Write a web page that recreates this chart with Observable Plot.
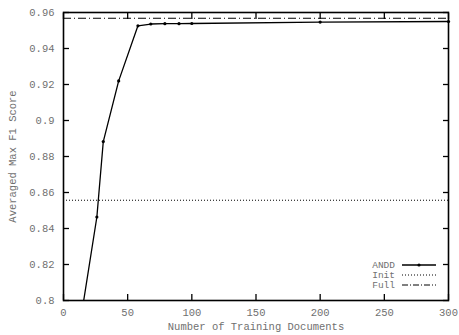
<!DOCTYPE html>
<html><head><meta charset="utf-8">
<script src="https://cdn.jsdelivr.net/npm/d3@7"></script>
<script src="https://cdn.jsdelivr.net/npm/@observablehq/plot@0.6"></script>
<style>body{margin:0;background:#fff}</style>
</head><body><div id="chart"></div>
<script>
const docs = [10, 26, 31, 43, 58, 68, 79, 90, 100, 200, 300];
const anddF1 = [0.774, 0.8464, 0.8883, 0.922, 0.9526, 0.9536, 0.9538, 0.9538, 0.9539, 0.9547, 0.955];
const initF1 = 0.8557;
const fullF1 = 0.9568;
const xTicks = [0, 50, 100, 150, 200, 250, 300];
const yTicks = [0.8, 0.82, 0.84, 0.86, 0.88, 0.9, 0.92, 0.94, 0.96];
const yTickLabels = ["0.8", "0.82", "0.84", "0.86", "0.88", "0.9", "0.92", "0.94", "0.96"];
const legendNames = ["ANDD", "Init", "Full"];

const andd = docs.map((d, i) => ({docs: d, f1: anddF1[i]}));
const FONT = "'Liberation Mono', 'DejaVu Sans Mono', monospace";
const GRAY = "#707070";

const chart = Plot.plot({
  width: 459, height: 335,
  marginLeft: 63, marginRight: 11, marginTop: 12, marginBottom: 35,
  style: {fontFamily: FONT, fontSize: "10.5px", background: "#fff", overflow: "visible"},
  x: {domain: [0, 300]},
  y: {domain: [0.8, 0.96]},
  marks: [
    Plot.ruleY([initF1], {stroke: "#000", strokeWidth: 1, strokeDasharray: "1,2"}),
    Plot.ruleY([fullF1], {stroke: "#000", strokeWidth: 1, strokeDasharray: "8,3,1,3"}),
    Plot.line(andd, {x: "docs", y: "f1", stroke: "#000", strokeWidth: 1.3, clip: true}),
    Plot.dot(andd.filter(d => d.f1 >= 0.8), {x: "docs", y: "f1", r: 1.6, fill: "#000", stroke: "none"}),
    Plot.axisX({ticks: xTicks, tickSize: 0, tickPadding: 8, tickFormat: d => String(d), fill: GRAY, label: "Number of Training Documents", labelAnchor: "center", labelArrow: "none", labelOffset: 29, color: GRAY}),
    Plot.axisY({ticks: yTicks, tickSize: 0, tickPadding: 9, tickFormat: (d, i) => yTickLabels[i], fill: GRAY, label: "Averaged Max F1 Score", labelAnchor: "center", labelArrow: "none", labelOffset: 55, color: GRAY}),
    Plot.axisX({ticks: xTicks, anchor: "bottom", tickSize: -6, text: null, label: null, stroke: "#000", strokeWidth: 1.3}),
    Plot.axisX({ticks: xTicks, anchor: "top", tickSize: -6, text: null, label: null, stroke: "#000", strokeWidth: 1.3}),
    Plot.axisY({ticks: yTicks, anchor: "left", tickSize: -6, text: null, label: null, stroke: "#000", strokeWidth: 1.3}),
    Plot.axisY({ticks: yTicks, anchor: "right", tickSize: -6, text: null, label: null, stroke: "#000", strokeWidth: 1.3}),
    Plot.frame({stroke: "#000", strokeWidth: 1.6})
  ]
});

const svg = d3.select(chart);
const lg = svg.append("g").attr("font-family", FONT).attr("font-size", 9.5).attr("fill", GRAY);
const rowsY = [265, 275, 285];
const dashes = [null, "1,2", "6,2,1,2"];
legendNames.forEach((name, i) => {
  lg.append("text").attr("x", 395).attr("y", rowsY[i]).attr("dy", "0.32em").attr("text-anchor", "end").text(name);
  lg.append("line").attr("x1", 402).attr("x2", 436).attr("y1", rowsY[i]).attr("y2", rowsY[i])
    .attr("stroke", "#000").attr("stroke-width", i === 0 ? 1.3 : 1).attr("stroke-dasharray", dashes[i]);
  if (i === 0) lg.append("circle").attr("cx", 419).attr("cy", rowsY[i]).attr("r", 1.6).attr("fill", "#000");
});
document.getElementById("chart").appendChild(chart);
</script>
</body></html>
